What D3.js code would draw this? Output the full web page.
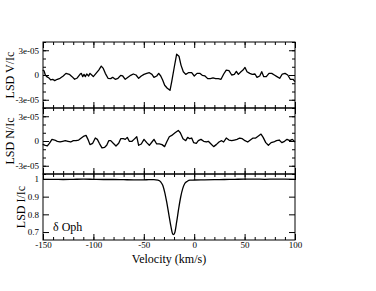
<!DOCTYPE html>
<html>
<head>
<meta charset="utf-8">
<script src="https://cdn.jsdelivr.net/npm/d3@7"></script>
<style>
  body { margin: 0; background: #fff; }
  svg text { font-family: "Liberation Serif", "Times New Roman", serif; fill: #000; }
</style>
</head>
<body>
<div id="chartContent"></div>
<script>
// Stokes V (units of 1e-5)
var velV = [-150.3,-149,-147.7,-146.3,-143.7,-142.4,-140.4,-138.4,-135.8,-133.1,-129.9,-127.2,-123.9,-121.2,-118.6,-116,-113.3,-112,-110.6,-109.3,-108,-106.6,-104.7,-103.4,-101.4,-100.1,-97.4,-94.7,-92.2,-90.2,-88.2,-85.5,-82.8,-80.9,-78.3,-75.6,-72.9,-70.9,-68.4,-65.7,-63,-60.4,-57.7,-55.1,-52.5,-49.8,-47.1,-44.5,-41.9,-39.9,-37.2,-35.2,-33.2,-31.3,-29.3,-26.7,-24,-22.3,-19.7,-17.4,-15.1,-13.1,-10.8,-8.4,-5.8,-2.5,0.1,2.8,5.5,8,10.7,13.4,16,18.7,21.3,23.9,26.6,29.3,31.8,34.5,37.2,39.8,41.8,43.8,46.4,48.4,50.4,52.4,55.1,57.6,60.3,62.3,65,67,69,71.5,74.2,76.9,79.5,82.1,84.8,87.4,90.1,92.8,95.3,98,100]
var valV = [0.6,0.52,0,-0.2,-0.4,-0.6,-0.52,-0.68,-0.52,-0.4,-0.12,0.2,0.08,-0.2,-0.52,-0.36,0.08,0.2,-0.2,0.08,-0.2,0.12,-0.12,0.2,-0.04,-0.2,0.2,0.6,1.08,0.8,0.2,-0.4,-0.44,-0.28,-0.52,-0.4,-0.04,-0.12,-0.52,-0.28,-0.04,0.12,0,-0.4,-0.12,0.08,0.2,0.28,0.08,-0.28,-0.12,0.2,-0.12,-0.6,-1.24,-1.6,-1.85,-0.8,1,2.52,2.28,1.2,0.4,0.08,0.28,0.28,-0.12,0.2,0.2,-0.04,-0.12,-0.44,-0.44,-0.36,-0.44,-0.44,-0.52,0.12,0.6,0.52,0,0.08,0.44,0.08,0.4,0.6,0.92,0.4,0.2,0.08,0.12,-0.28,-0.12,0.4,-0.2,-0.2,0.2,0.2,0,-0.2,-0.4,0.12,0.2,0,-0.52,-0.52,-0.8]

// Null N (units of 1e-5)
var velN = [-150.3,-147.7,-145.7,-143.7,-141.1,-138.4,-135.8,-133.1,-130.5,-127.9,-125.2,-122.5,-119.9,-117.3,-114.6,-112,-109.3,-107.3,-105.4,-103.4,-100.7,-98.1,-96.1,-94.1,-91.5,-88.8,-86.8,-84.8,-82.8,-80.3,-77.6,-74.9,-72.9,-70.3,-68.4,-66.4,-64.4,-61.7,-59.7,-57,-55.1,-52.5,-49.8,-47.1,-44.5,-41.9,-39.9,-37.2,-34.6,-31.9,-29.3,-27.3,-24.7,-22.3,-19,-15.8,-13.8,-11.1,-8.4,-6.5,-4.5,-2.5,-0.5,2.1,4.1,6.7,9.4,12,14,16.7,19.3,21.9,24.6,27.2,29.2,31.8,34.5,37.2,39.8,42.5,45.1,47.7,50.4,53.1,55.7,58.4,61,63.7,66.3,68.4,71,73.6,76.3,79,81.6,84.3,86.9,89.6,92.1,94.8,97.4,100]
var valN = [-0.4,-0.52,-0.6,-0.28,0.2,0.12,-0.04,-0.12,-0.04,0.04,-0.04,-0.12,0.04,0.04,0.12,0.36,0.6,0.68,0.2,-0.44,-0.28,0.36,0.2,-0.28,-0.84,-0.76,-0.52,0.04,0.04,-0.28,-0.6,-0.28,0.28,0.28,0.2,0.44,-0.04,-0.04,0.2,0.52,-0.52,-0.36,0.2,-0.2,-0.52,-0.12,0.2,-0.36,-0.36,-0.44,-0.68,-0.12,0.52,0.68,1,1.28,1,0.28,0.04,0.44,0.28,0.36,-0.2,-0.28,0.04,0.2,-0.04,-0.12,-0.04,-0.36,-0.68,-0.44,-0.12,0.04,-0.12,0.36,0.12,0.04,0.12,0.2,0.36,0.28,0.04,-0.12,0.12,0.36,0.36,0.6,0.84,0.44,-0.2,-0.52,-0.2,-0.12,0.04,0.12,-0.2,-0.04,0.2,0.04,0.2,-0.12]

// Stokes I
var velI = [-150,-140,-130,-120,-110,-100,-90,-80,-70,-60,-50,-45,-40,-36,-33.2,-31.2,-29.3,-27.3,-25.3,-23.3,-21.7,-20.7,-19.3,-17.4,-15.4,-13.4,-11.4,-9.5,-6.8,-4.2,0,10,20,30,40,50,60,70,80,90,100]
var valI = [0.998,0.998,0.997,0.998,0.999,0.998,0.997,0.997,0.996,0.995,0.995,0.996,0.996,0.993,0.983,0.964,0.926,0.87,0.804,0.738,0.694,0.685,0.696,0.757,0.832,0.898,0.945,0.973,0.987,0.993,0.994,0.995,0.996,0.997,0.998,0.999,0.999,0.998,0.999,0.999,0.998]

var xTicks = [-150,-100,-50,0,50,100]
var vTicks = [-3e-5,0,3e-5]
var vTickLabels = ["-3e-05","0","3e-05"]
var iTicks = [0.7,0.8,0.9,1]
var iTickLabels = ["0.7","0.8","0.9","1"]

var width = 376, height = 291
var left = 43, right = 295
var svg = d3.select("#chartContent").append("svg")
    .attr("width", width)
    .attr("height", height)

var x = d3.scaleLinear().domain([-150, 100]).range([left, right])
var xMinor = d3.range(-150, 101, 10)

function makePanel(top, bottom, domain, vel, val, scale, ticks, labels, minor, yLabel, labelX, showX, curve) {
    var y = d3.scaleLinear().domain(domain).range([bottom, top])
    var g = svg.append("g")

    var pts = vel.map((v, i) => [v, val[i] * scale])
    g.append("path")
        .datum(pts)
        .attr("fill", "none")
        .attr("stroke", "#000")
        .attr("stroke-width", 1.3)
        .attr("stroke-linejoin", "round")
        .attr("d", d3.line().x(d => x(d[0])).y(d => y(d[1])).curve(curve))

    // minor ticks on all four sides
    var sides = [
        [d3.axisLeft(y).tickValues(minor), left, 0],
        [d3.axisRight(y).tickValues(minor), right, 0],
        [d3.axisTop(x).tickValues(xMinor), 0, top],
        [d3.axisBottom(x).tickValues(xMinor), 0, bottom]
    ]
    sides.forEach(s => {
        g.append("g")
            .attr("transform", `translate(${s[1]},${s[2]})`)
            .call(s[0].tickSize(-3).tickFormat(""))
            .call(a => a.select(".domain").remove())
    })

    g.append("g")
        .attr("transform", `translate(${left},0)`)
        .call(d3.axisLeft(y).tickValues(ticks).tickSize(-6).tickPadding(4)
            .tickFormat((d, i) => labels[i]))
    g.append("g")
        .attr("transform", `translate(${right},0)`)
        .call(d3.axisRight(y).tickValues(ticks).tickSize(-6).tickFormat(""))
    g.append("g")
        .attr("transform", `translate(0,${top})`)
        .call(d3.axisTop(x).tickValues(xTicks).tickSize(-6).tickFormat(""))
    g.append("g")
        .attr("transform", `translate(0,${bottom})`)
        .call(d3.axisBottom(x).tickValues(xTicks).tickSize(-6).tickPadding(2)
            .tickFormat(d => showX ? d : ""))

    g.selectAll(".domain").remove()
    g.selectAll(".tick line").attr("stroke", "#000")
    g.selectAll(".tick text")
        .style("font-family", '"Liberation Serif", "Times New Roman", serif')
        .style("font-size", "9px")
        .attr("fill", "#000")

    g.append("rect")
        .attr("x", left)
        .attr("y", top)
        .attr("width", right - left)
        .attr("height", bottom - top)
        .attr("fill", "none")
        .attr("stroke", "#000")
        .attr("stroke-width", 1)

    g.append("text")
        .attr("transform", `translate(${labelX},${(top + bottom) / 2}) rotate(-90)`)
        .attr("text-anchor", "middle")
        .style("font-size", "12px")
        .text(yLabel)

    return y
}

var vMinor = d3.range(-4, 5, 1).map(d => d * 1e-5)
makePanel(42, 108, [-4e-5, 4e-5], velV, valV, 1e-5, vTicks, vTickLabels, vMinor, "LSD V/Ic", 14, false, d3.curveLinear)
makePanel(108, 174, [-4e-5, 4e-5], velN, valN, 1e-5, vTicks, vTickLabels, vMinor, "LSD N/Ic", 14, false, d3.curveLinear)
makePanel(174, 240, [0.655, 1.028], velI, valI, 1, iTicks, iTickLabels, [], "LSD I/Ic", 25, true, d3.curveMonotoneX)

svg.append("text")
    .attr("x", 53)
    .attr("y", 231)
    .style("font-size", "12px")
    .text("δ Oph")

svg.append("text")
    .attr("x", (left + right) / 2)
    .attr("y", 263)
    .attr("text-anchor", "middle")
    .style("font-size", "12px")
    .text("Velocity (km/s)")
</script>
</body>
</html>
